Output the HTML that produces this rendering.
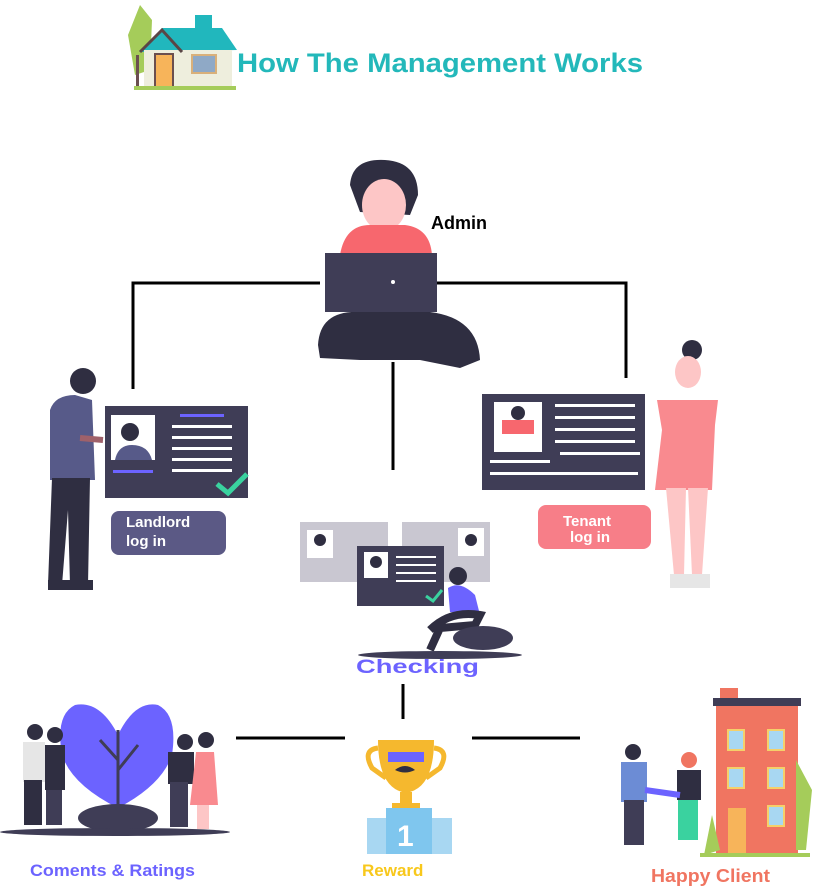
<!DOCTYPE html>
<html><head><meta charset="utf-8"><style>
body{margin:0;background:#fff;width:817px;height:890px;overflow:hidden;position:relative;font-family:"Liberation Sans",Arial,sans-serif}
svg{position:absolute;left:0;top:0}
</style></head><body>
<svg width="817" height="890" viewBox="0 0 817 890" xmlns="http://www.w3.org/2000/svg" font-family="Liberation Sans, Arial, sans-serif">
<!-- house icon -->
<path d="M128 35 L140 5 L152 20 L150 70 L135 75 Z" fill="#a5cc5a"/>
<rect x="136" y="55" width="3" height="32" fill="#6b4f4f"/>
<rect x="195" y="15" width="17" height="14" fill="#21b7bd"/>
<path d="M140 52 L162 28 L222 28 L237 50 Z" fill="#21b7bd"/>
<rect x="144" y="50" width="88" height="38" fill="#eeeedd"/>
<path d="M140 52 L162 30 L182 52" fill="none" stroke="#5a4646" stroke-width="3"/>
<rect x="155" y="54" width="18" height="34" fill="#f7b45a" stroke="#6b4f4f" stroke-width="2"/>
<rect x="192" y="55" width="24" height="18" fill="#8fa9c6" stroke="#d9b07a" stroke-width="2"/>
<rect x="134" y="86" width="102" height="4" fill="#a5cc5a"/>
<text x="237" y="72" font-size="27" font-weight="bold" fill="#23b8ba" textLength="406" lengthAdjust="spacingAndGlyphs">How The Management Works</text>

<!-- connectors -->
<g stroke="#000" stroke-width="3" fill="none">
<path d="M133 389 V283 H320"/>
<path d="M437 283 H626 V378"/>
<path d="M393 362 V470"/>
<path d="M403 684 V719"/>
<path d="M236 738 H345"/>
<path d="M472 738 H580"/>
</g>

<!-- Admin -->
<path d="M350 185 Q352 158 385 160 Q418 162 418 195 L410 215 L360 212 Z" fill="#2f2e41"/>
<ellipse cx="384" cy="205" rx="22" ry="26" fill="#fdc6c6"/>
<path d="M340 255 Q345 225 370 225 L405 225 Q430 228 432 255 Z" fill="#f7676e"/>
<path d="M318 345 Q320 310 360 312 L430 312 Q478 318 480 360 L460 368 L420 360 L360 360 L320 358 Z" fill="#2f2e41"/>
<rect x="325" y="253" width="112" height="59" fill="#3f3d56"/>
<circle cx="393" cy="282" r="2" fill="#fff"/>
<text x="431" y="229" font-size="18" font-weight="bold" fill="#000">Admin</text>

<!-- Landlord -->
<circle cx="83" cy="381" r="13" fill="#2f2e41"/>
<path d="M50 410 Q55 395 75 395 L92 400 L95 480 L50 480 Z" fill="#575a89"/>
<path d="M52 478 L90 478 L88 585 L70 585 L68 510 L62 585 L48 585 Z" fill="#2f2e41"/>
<rect x="48" y="580" width="45" height="10" fill="#2f2e41"/>
<path d="M80 438 L103 440" stroke="#9f616a" stroke-width="6"/>
<rect x="105" y="406" width="143" height="92" fill="#3f3d56"/>
<rect x="111" y="415" width="44" height="45" fill="#fff"/>
<circle cx="130" cy="432" r="9" fill="#2f2e41"/>
<path d="M115 460 Q118 445 132 445 Q148 445 152 460 Z" fill="#575a89"/>
<g fill="#fff"><rect x="172" y="425" width="60" height="3"/><rect x="172" y="436" width="60" height="3"/><rect x="172" y="447" width="60" height="3"/><rect x="172" y="458" width="60" height="3"/><rect x="172" y="469" width="60" height="3"/></g>
<rect x="180" y="414" width="44" height="3" fill="#6c63ff"/>
<rect x="113" y="470" width="40" height="3" fill="#6c63ff"/>
<path d="M217 484 L228 493 L247 474" fill="none" stroke="#3ad29f" stroke-width="5"/>
<rect x="111" y="511" width="115" height="44" rx="8" fill="#5b5985"/>
<text x="126" y="527" font-size="15" font-weight="bold" fill="#fff">Landlord</text>
<text x="126" y="546" font-size="15" font-weight="bold" fill="#fff">log in</text>

<!-- Tenant -->
<rect x="482" y="394" width="163" height="96" fill="#3f3d56"/>
<rect x="494" y="402" width="48" height="50" fill="#fff"/>
<circle cx="518" cy="413" r="7" fill="#2f2e41"/>
<rect x="502" y="420" width="32" height="14" fill="#f7676e"/>
<g fill="#fff"><rect x="555" y="404" width="80" height="3"/><rect x="555" y="416" width="80" height="3"/><rect x="555" y="428" width="80" height="3"/><rect x="555" y="440" width="80" height="3"/><rect x="490" y="460" width="60" height="3"/><rect x="560" y="452" width="80" height="3"/><rect x="490" y="472" width="148" height="3"/></g>
<circle cx="692" cy="350" r="10" fill="#2f2e41"/>
<ellipse cx="688" cy="372" rx="13" ry="16" fill="#fdc6c6"/>
<path d="M657 400 L718 400 L715 425 L712 490 L655 490 L662 430 Z" fill="#f98a8f"/>
<path d="M666 488 L686 488 L684 575 L674 575 Z M688 488 L708 488 L702 575 L692 575 Z" fill="#fdc6c6"/>
<rect x="670" y="574" width="40" height="14" fill="#e6e6e6"/>
<rect x="538" y="505" width="113" height="44" rx="8" fill="#f77e88"/>
<text x="563" y="526" font-size="15" font-weight="bold" fill="#fff">Tenant</text>
<text x="570" y="542" font-size="15" font-weight="bold" fill="#fff">log in</text>

<!-- Checking -->
<rect x="300" y="522" width="88" height="60" fill="#c9c7d1"/>
<rect x="307" y="530" width="26" height="28" fill="#fff"/>
<circle cx="320" cy="540" r="6" fill="#2f2e41"/>
<rect x="402" y="522" width="88" height="60" fill="#c9c7d1"/>
<rect x="458" y="528" width="26" height="28" fill="#fff"/>
<circle cx="471" cy="540" r="6" fill="#2f2e41"/>
<rect x="357" y="546" width="87" height="60" fill="#3f3d56"/>
<rect x="364" y="552" width="24" height="26" fill="#fff"/>
<circle cx="376" cy="562" r="6" fill="#2f2e41"/>
<g fill="#fff"><rect x="396" y="556" width="40" height="2"/><rect x="396" y="564" width="40" height="2"/><rect x="396" y="572" width="40" height="2"/><rect x="396" y="580" width="40" height="2"/></g>
<path d="M426 596 L433 601 L442 590" fill="none" stroke="#3ad29f" stroke-width="3"/>
<circle cx="458" cy="576" r="9" fill="#2f2e41"/>
<path d="M448 588 Q460 580 475 595 L480 615 L450 612 Z" fill="#6c63ff"/>
<path d="M430 630 Q450 610 480 615 L475 625 L440 628 L430 650" fill="none" stroke="#2f2e41" stroke-width="8"/>
<ellipse cx="483" cy="638" rx="30" ry="12" fill="#3f3d56"/>
<ellipse cx="440" cy="655" rx="82" ry="4" fill="#3f3d56"/>
<text x="356" y="673" font-size="19" font-weight="bold" fill="#6c63ff" textLength="123" lengthAdjust="spacingAndGlyphs">Checking</text>

<!-- Comments -->
<path d="M118 735 Q100 700 75 705 Q55 715 62 755 Q72 785 118 808 Q162 785 172 755 Q178 715 158 705 Q135 700 118 735 Z" fill="#6c63ff"/>
<path d="M118 808 V730 M118 760 L100 740 M118 770 L138 745" stroke="#3f3d56" stroke-width="3" fill="none"/>
<ellipse cx="118" cy="818" rx="40" ry="14" fill="#3f3d56"/>
<ellipse cx="115" cy="832" rx="115" ry="4" fill="#3f3d56"/>
<circle cx="35" cy="732" r="8" fill="#2f2e41"/>
<rect x="23" y="742" width="22" height="40" fill="#e6e6e6"/>
<rect x="24" y="780" width="18" height="45" fill="#2f2e41"/>
<circle cx="55" cy="735" r="8" fill="#2f2e41"/>
<rect x="45" y="745" width="20" height="45" fill="#2f2e41"/>
<rect x="46" y="790" width="16" height="35" fill="#3f3d56"/>
<circle cx="185" cy="742" r="8" fill="#2f2e41"/>
<rect x="168" y="752" width="26" height="32" fill="#2f2e41"/>
<rect x="170" y="782" width="18" height="45" fill="#3f3d56"/>
<circle cx="206" cy="740" r="8" fill="#2f2e41"/>
<path d="M196 752 L214 752 L218 805 L190 805 Z" fill="#f98a8f"/>
<rect x="197" y="805" width="12" height="24" fill="#fdc6c6"/>
<text x="30" y="876" font-size="17" font-weight="bold" fill="#6c63ff" textLength="165" lengthAdjust="spacingAndGlyphs">Coments &amp; Ratings</text>

<!-- Reward -->
<path d="M378 740 L434 740 Q434 785 410 792 L402 792 Q378 785 378 740 Z" fill="#f5b82e"/>
<path d="M378 748 Q362 750 372 768 L386 778 M434 748 Q450 750 440 768 L426 778" fill="none" stroke="#f5b82e" stroke-width="5"/>
<rect x="388" y="752" width="36" height="10" fill="#6c63ff"/>
<path d="M395 770 Q405 762 415 770 Q405 775 395 770 Z" fill="#2f2e41"/>
<rect x="400" y="792" width="12" height="12" fill="#f5b82e"/>
<rect x="392" y="803" width="28" height="7" fill="#f5b82e"/>
<rect x="367" y="818" width="85" height="36" fill="#a8d7f2"/>
<rect x="386" y="808" width="46" height="46" fill="#7fc6ee"/>
<text x="397" y="846" font-size="30" font-weight="bold" fill="#fff">1</text>
<text x="362" y="876" font-size="17" font-weight="bold" fill="#f8c81c">Reward</text>

<!-- Happy Client -->
<rect x="720" y="688" width="18" height="12" fill="#f07561"/>
<rect x="713" y="698" width="88" height="8" fill="#3f3d56"/>
<rect x="716" y="706" width="82" height="150" fill="#f07561"/>
<g fill="#a8d7f2" stroke="#f5d06a" stroke-width="2">
<rect x="728" y="730" width="16" height="20"/><rect x="768" y="730" width="16" height="20"/>
<rect x="728" y="768" width="16" height="20"/><rect x="768" y="768" width="16" height="20"/>
<rect x="768" y="806" width="16" height="20"/></g>
<rect x="728" y="808" width="18" height="46" fill="#f7b45a"/>
<path d="M796 760 L812 790 L806 850 L796 850 Z" fill="#a5cc5a"/>
<path d="M712 815 L720 850 L704 855 Z" fill="#a5cc5a"/>
<rect x="700" y="853" width="110" height="4" fill="#a5cc5a"/>
<circle cx="633" cy="752" r="8" fill="#2f2e41"/>
<rect x="621" y="762" width="26" height="40" fill="#6c8cd5"/>
<rect x="624" y="800" width="20" height="45" fill="#3f3d56"/>
<circle cx="689" cy="760" r="8" fill="#f07561"/>
<rect x="677" y="770" width="24" height="30" fill="#2f2e41"/>
<rect x="678" y="800" width="20" height="40" fill="#3ad29f"/>
<path d="M645 790 L680 795" stroke="#6c63ff" stroke-width="6"/>
<text x="651" y="882" font-size="18" font-weight="bold" fill="#f07561" textLength="119" lengthAdjust="spacingAndGlyphs">Happy Client</text>
</svg>
</body></html>
